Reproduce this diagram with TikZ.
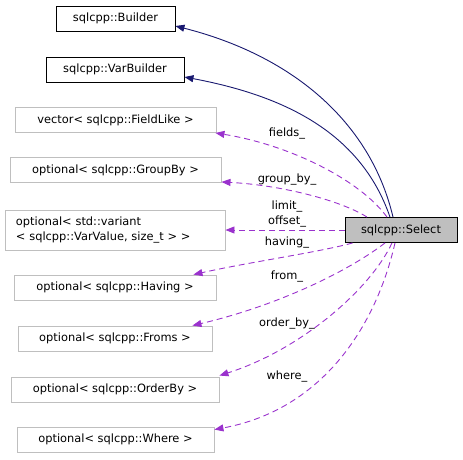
\documentclass[tikz,border=0pt]{standalone}
\usepackage{fontspec}
\setmainfont{DejaVu Sans}
\usetikzlibrary{arrows.meta}
\definecolor{inhcol}{HTML}{191970}
\definecolor{usecol}{HTML}{9A32CD}
\definecolor{boxgray}{HTML}{BFBFBF}
\tikzset{
  cls/.style={rectangle, draw=black, line width=0.9pt, inner sep=0pt, minimum height=25pt, align=center, font=\fontsize{11.4}{15}\selectfont},
  member/.style={cls, draw=boxgray},
  focus/.style={cls, fill=boxgray},
  inherit/.style={draw=inhcol, line width=0.9pt, -{Triangle[length=9pt, width=7pt, fill=inhcol]}},
  uses/.style={draw=usecol, line width=0.9pt, dash pattern=on 6pt off 4pt, -{Triangle[length=9pt, width=7pt, fill=usecol]}},
  lbl/.style={inner sep=0pt, font=\fontsize{11.4}{15}\selectfont, align=center}
}

\begin{document}
\begin{tikzpicture}[x=1pt, y=-1pt]
    \useasboundingbox (0,0) rectangle (463,459);
    % classes
    \node[focus, minimum width=112pt] (sel) at (401,230) {sqlcpp::Select};
    \node[cls, minimum width=119pt] (bld) at (115.5,18.5) {sqlcpp::Builder};
    \node[cls, minimum width=138pt] (vbld) at (115,69.5) {sqlcpp::VarBuilder};
    \node[member, minimum width=201pt] (fld) at (115.5,120) {vector< sqlcpp::FieldLike >};
    \node[member, minimum width=211pt] (grp) at (115.5,170) {optional< sqlcpp::GroupBy >};
    \node[member, minimum height=40pt, inner xsep=11pt, text width=198pt, align=left] (var) at (115,230) {optional< std::variant\\< sqlcpp::VarValue, size\_t > >};
    \node[member, minimum width=202pt] (hav) at (115,287.5) {optional< sqlcpp::Having >};
    \node[member, minimum width=194pt] (frm) at (115,338.5) {optional< sqlcpp::Froms >};
    \node[member, minimum width=208pt] (ord) at (115,389.5) {optional< sqlcpp::OrderBy >};
    \node[member, minimum width=197pt] (whr) at (115.5,439.5) {optional< sqlcpp::Where >};
    % edge labels
    \node[lbl] (lfld) at (287,134) {fields\_};
    \node[lbl] (lgrp) at (287,180) {group\_by\_};
    \node[lbl] (lvar) at (287,214.5) {limit\_\\offset\_};
    \node[lbl] (lhav) at (287,243) {having\_};
    \node[lbl] (lfrm) at (287,277) {from\_};
    \node[lbl] (lord) at (287,324) {order\_by\_};
    \node[lbl] (lwhr) at (287,377) {where\_};
    % inheritance
    \draw[inherit] ([xshift=-8pt]sel.north) .. controls (370,120) and (290,55) .. ([yshift=-7.5pt]bld.east);
    \draw[inherit] ([xshift=-11pt]sel.north) .. controls (360,130) and (280,95) .. ([yshift=-7.5pt]vbld.east);
    % members
    \draw[uses] ([xshift=-14pt]sel.north) .. controls (360,180) and (290,145) .. ([xshift=-1pt]fld.south east);
    \draw[uses] ([xshift=-34pt]sel.north) .. controls (340,200) and (280,185) .. ([yshift=1pt]grp.south east);
    \draw[uses] (sel.west) -- (var.east);
    \draw[uses] ([xshift=8pt]sel.south west) .. controls (320,252) and (250,262) .. ([xshift=-23pt]hav.north east);
    \draw[uses] ([xshift=-16pt]sel.south) .. controls (350,270) and (280,305) .. ([xshift=-20pt]frm.north east);
    \draw[uses] ([xshift=-9pt]sel.south) .. controls (370,290) and (300,350) .. ([yshift=1pt]ord.north east);
    \draw[uses] ([xshift=-6pt]sel.south) .. controls (375,330) and (320,410) .. ([yshift=-3pt]whr.north east);
\end{tikzpicture}
\end{document}
